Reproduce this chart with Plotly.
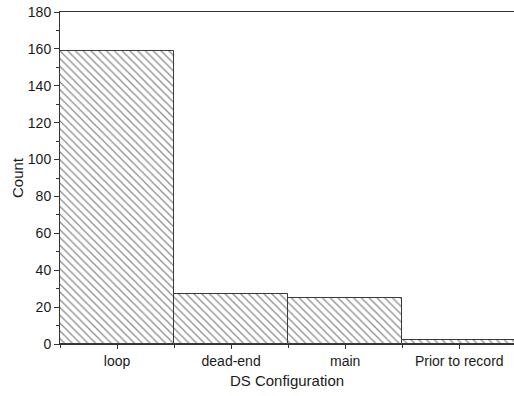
import plotly.graph_objects as go

# DS configuration categories and their counts
categories = ["loop", "dead-end", "main", "Prior to record"]
counts = [159, 27, 25, 2]
y_ticks = [0, 20, 40, 60, 80, 100, 120, 140, 160, 180]

positions = list(range(len(categories)))

fig = go.Figure(
    go.Bar(
        x=positions,
        y=counts,
        width=1.0,
        marker=dict(
            color="white",
            line=dict(color="#3a3a3a", width=1),
            pattern=dict(shape="\\", fgcolor="#8a8a8a", bgcolor="white",
                         size=5.5, solidity=0.22, fillmode="replace"),
        ),
        showlegend=False,
    )
)

font = dict(family="Liberation Sans, Arial, sans-serif", size=14, color="#1a1a1a")

fig.update_layout(
    width=514,
    height=396,
    margin=dict(l=60, r=0, t=12, b=52),
    paper_bgcolor="white",
    plot_bgcolor="white",
    font=font,
    bargap=0,
    xaxis=dict(
        range=[-0.5, 3.48],
        tickmode="array",
        tickvals=positions,
        ticktext=categories,
        ticks="outside",
        ticklen=4,
        tickcolor="#333",
        showline=True,
        linecolor="#333",
        linewidth=1,
        mirror=True,
        showgrid=False,
        zeroline=False,
        minor=dict(tick0=0.5, dtick=1, ticks="outside", ticklen=3, tickcolor="#333"),
        title=dict(text="DS Configuration", font=dict(size=15), standoff=7),
    ),
    yaxis=dict(
        range=[0, 180],
        tickmode="array",
        tickvals=y_ticks,
        ticks="outside",
        ticklen=5,
        tickcolor="#333",
        showline=True,
        linecolor="#333",
        linewidth=1,
        showgrid=False,
        zeroline=False,
        minor=dict(tick0=0, dtick=10, ticks="outside", ticklen=3, tickcolor="#333"),
        title=dict(text="Count", font=dict(size=15), standoff=0),
    ),
)

fig.write_html("out.html")
